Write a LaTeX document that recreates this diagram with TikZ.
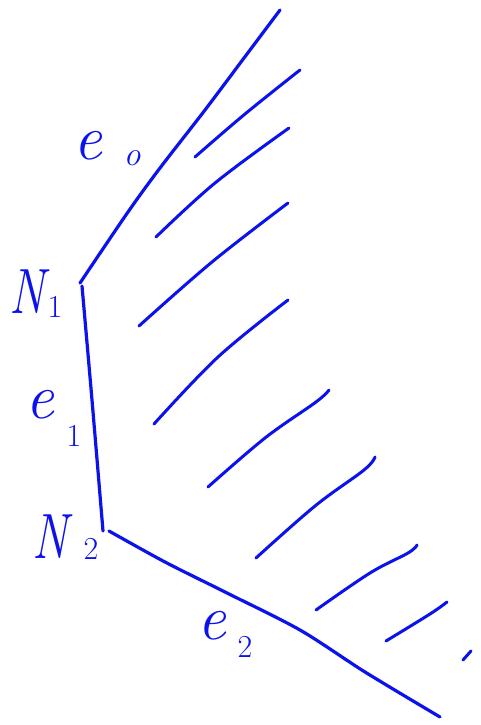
\documentclass[tikz,border=0pt]{standalone}
\usetikzlibrary{calc}
\definecolor{ink}{RGB}{12,18,235}
\newcommand{\narrowN}{\scalebox{0.76}[1]{N}}
\tikzset{
  edge/.style={ink,line width=3.2pt,line cap=round,line join=round},
  hatch/.style={ink,line width=3pt,line cap=round,line join=round},
  lab/.style={text=ink,inner sep=0pt,font=\fontsize{64}{64}\selectfont\itshape},
  idx/.style={text=ink,inner sep=0pt,font=\fontsize{32}{32}\selectfont}
}
\begin{document}
\begin{tikzpicture}[x=1pt,y=-1pt]
\useasboundingbox (0,0) rectangle (481,725);
% corners of the boundary
\coordinate (T) at (280,10);
\coordinate (N1) at (80,283);
\coordinate (N2) at (103,531);
\coordinate (B) at (440,717);
% boundary edges
\draw[edge] plot[smooth,tension=0.5] coordinates {(N1) (128,212) (160,168) (205,110) (250,50) (T)};
\draw[edge] plot[smooth,tension=0.5] coordinates {(82,286) (92,400) (N2)};
\draw[edge] plot[smooth,tension=0.5] coordinates {(109,531) (165,562) (225,592) (300,630) (365,672) (B)};
% hatching
\draw[hatch] plot[smooth,tension=0.6] coordinates {(195,157) (245,114) (300,70)};
\draw[hatch] plot[smooth,tension=0.6] coordinates {(156,237) (215,183) (289,128)};
\draw[hatch] plot[smooth,tension=0.6] coordinates {(139,326) (212,262) (288,203)};
\draw[hatch] plot[smooth,tension=0.6] coordinates {(154,424) (218,357) (288,300)};
\draw[hatch] plot[smooth,tension=0.6] coordinates {(208,487) (265,438) (316,402) (329,390)};
\draw[hatch] plot[smooth,tension=0.6] coordinates {(256,558) (315,506) (364,470) (375,457)};
\draw[hatch] plot[smooth,tension=0.6] coordinates {(316,610) (370,573) (408,553) (417,545)};
\draw[hatch] plot[smooth,tension=0.6] coordinates {(386,641) (430,614) (447,602)};
\draw[hatch] (463,660) -- (471,651);
% labels
\node[lab] (e0) at (88,146) {e};
\node[idx,font=\fontsize{34}{34}\selectfont\itshape] (e0i) at (132,158) {o};
\node[lab] (n1) at (27,292) {\narrowN};
\node[idx] (n1i) at (55,307) {1};
\node[lab] (e1) at (40,405) {e};
\node[idx] (e1i) at (74,436) {1};
\node[lab] (n2) at (50,537) {\narrowN};
\node[idx] (n2i) at (91,549) {2};
\node[lab] (e2) at (212,626) {e};
\node[idx] (e2i) at (245,647) {2};
\end{tikzpicture}
\end{document}
